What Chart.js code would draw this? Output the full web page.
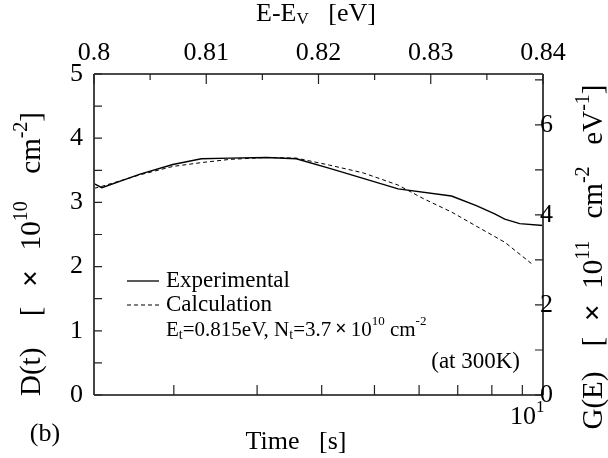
<!DOCTYPE html>
<html>
<head>
<meta charset="utf-8">
<script src="https://cdn.jsdelivr.net/npm/chart.js@4.4.0/dist/chart.umd.min.js"></script>
<style>
  body { margin: 0; background: #fff; }
</style>
</head>
<body>
<canvas id="c" width="608" height="458"></canvas>
<script>
// data
var timeRange = [2.277, 10.74];          // bottom axis, seconds (log)
var energyRange = [0.80, 0.84];          // top axis, eV
var dRange = [0, 5];                     // left axis
var gRange = [0, 7.13];                  // right axis
var energyTicks = [0.80, 0.81, 0.82, 0.83, 0.84];
var dTicks = [0, 1, 2, 3, 4, 5];
var gTicks = [0, 2, 4, 6];
var timeTicks = [3, 4, 5, 6, 7, 8, 9, 10];

var expTime = [2.28, 2.34, 2.67, 2.99, 3.30, 3.64, 4.13, 4.58, 5.14, 5.77, 6.51, 7.83, 8.53, 9.09, 9.41, 9.91, 10.74];
var expD    = [3.29, 3.23, 3.44, 3.59, 3.68, 3.69, 3.70, 3.68, 3.53, 3.375, 3.21, 3.10, 2.95, 2.82, 2.74, 2.67, 2.64];

var calcTime = [2.28, 2.34, 2.67, 2.99, 3.30, 3.64, 4.13, 4.58, 5.14, 5.77, 6.51, 7.10, 7.83, 8.53, 9.41, 10.37];
var calcD    = [3.22, 3.25, 3.43, 3.56, 3.62, 3.67, 3.70, 3.69, 3.58, 3.46, 3.27, 3.06, 2.85, 2.63, 2.38, 2.03];

var FONT = '"Liberation Serif", "Times New Roman", serif';

function pts(xs, ys) {
  return xs.map(function(x, i) { return { x: x, y: ys[i] }; });
}

function setFont(ctx, s) {
  ctx.font = (s[3] ? 'bold ' : '') + s[1] + 'px ' + FONT;
}

// draws a run of text pieces: [text, size, dy, bold, gapWeight]
// if span is given, the weighted gaps are stretched so the run fills it
function rich(ctx, segs, x, y, align, span) {
  var w = 0, wsum = 0;
  segs.forEach(function(s) {
    setFont(ctx, s);
    w += ctx.measureText(s[0]).width;
    wsum += s[4] || 0;
  });
  var unit = (span && wsum) ? (span - w) / wsum : 0;
  if (span) w = span;
  var cx = align === 'center' ? x - w / 2 : (align === 'right' ? x - w : x);
  ctx.textAlign = 'left';
  ctx.textBaseline = 'middle';
  segs.forEach(function(s) {
    setFont(ctx, s);
    ctx.fillText(s[0], cx, y + (s[2] || 0));
    cx += ctx.measureText(s[0]).width + (s[4] || 0) * unit;
  });
}

var framePlugin = {
  id: 'frame',
  afterDraw: function(chart) {
    var ctx = chart.ctx, a = chart.chartArea;
    var sx = chart.scales.x, sxt = chart.scales.xTop, sy = chart.scales.y, syr = chart.scales.yR;
    ctx.save();
    ctx.fillStyle = '#000';
    ctx.lineWidth = 1.5;
    ctx.strokeStyle = '#111';
    ctx.beginPath();
    ctx.moveTo(a.left, a.top); ctx.lineTo(a.right, a.top);
    ctx.moveTo(a.left, a.bottom); ctx.lineTo(a.right, a.bottom);
    ctx.stroke();
    ctx.strokeStyle = '#444';
    ctx.lineWidth = 2;
    ctx.beginPath();
    ctx.moveTo(a.left, a.top); ctx.lineTo(a.left, a.bottom);
    ctx.moveTo(a.right, a.top); ctx.lineTo(a.right, a.bottom);
    ctx.stroke();

    ctx.strokeStyle = '#222';
    ctx.lineWidth = 1.2;
    ctx.beginPath();
    // left ticks every 0.5
    for (var v = dRange[0]; v <= dRange[1] + 1e-9; v += 0.5) {
      var py = sy.getPixelForValue(v);
      ctx.moveTo(a.left, py); ctx.lineTo(a.left + 8, py);
    }
    // right ticks every 1
    for (var g = 0; g <= gRange[1]; g += 1) {
      var py2 = syr.getPixelForValue(g);
      ctx.moveTo(a.right, py2); ctx.lineTo(a.right - 8, py2);
    }
    // top ticks every 0.005
    for (var k = 0; k <= 8; k++) {
      var e = energyRange[0] + k * 0.005;
      var px = sxt.getPixelForValue(e);
      ctx.moveTo(px, a.top); ctx.lineTo(px, a.top + (k % 2 === 0 ? 10 : 6));
    }
    // bottom ticks
    timeTicks.forEach(function(t) {
      var px2 = sx.getPixelForValue(t);
      ctx.moveTo(px2, a.bottom); ctx.lineTo(px2, a.bottom - 10);
    });
    ctx.stroke();

    // tick labels
    ctx.font = '26px ' + FONT;
    ctx.textBaseline = 'middle';
    ctx.textAlign = 'right';
    dTicks.forEach(function(d) {
      ctx.fillText(String(d), a.left - 11, sy.getPixelForValue(d));
    });
    ctx.textAlign = 'left';
    gTicks.forEach(function(g) {
      ctx.fillText(String(g), a.right - 3, syr.getPixelForValue(g));
    });
    ctx.textAlign = 'center';
    energyTicks.forEach(function(e) {
      var s = e === 0.8 ? '0.8' : e.toFixed(2);
      ctx.fillText(s, sxt.getPixelForValue(e), a.top - 21);
    });
    rich(ctx, [['10', 26, 0], ['1', 17, -9]], sx.getPixelForValue(10) + 5, a.bottom + 22, 'center');

    // axis titles
    rich(ctx, [['E-E', 26, 0], ['V', 17, 6], ['   [eV]', 26, 0]], 316, 14, 'center');
    rich(ctx, [['Time   [s]', 26, 0]], 296, 442, 'center');
    rich(ctx, [['(b)', 26, 0]], 45, 434, 'center');

    ctx.save();
    ctx.translate(32, 254);
    ctx.rotate(-Math.PI / 2);
    rich(ctx, [['D(t)', 29, 0, false, 1.6], ['[', 29, 0, false, 1], ['\u00d7', 30, 0, true, 1], ['10', 29, 0],
               ['10', 20, -10, false, 1.4], ['cm', 29, 0], ['-2', 20, -10], [']', 29, 0]], 0, 0, 'center', 284);
    ctx.restore();

    ctx.save();
    ctx.translate(594, 257);
    ctx.rotate(-Math.PI / 2);
    rich(ctx, [['G(E)', 29, 0, false, 1.6], ['[', 29, 0, false, 1], ['\u00d7', 30, 0, true, 1], ['10', 29, 0],
               ['11', 20, -10, false, 1.4], ['cm', 29, 0], ['-2', 20, -10, false, 1.4], ['eV', 29, 0], ['-1', 20, -10],
               [']', 29, 0]], 0, 0, 'center', 345);
    ctx.restore();

    // legend
    ctx.strokeStyle = '#000';
    ctx.lineWidth = 1.3;
    ctx.setLineDash([]);
    ctx.beginPath(); ctx.moveTo(127, 281); ctx.lineTo(159, 281); ctx.stroke();
    ctx.setLineDash([4, 3]);
    ctx.lineWidth = 1;
    ctx.beginPath(); ctx.moveTo(127, 305); ctx.lineTo(159, 305); ctx.stroke();
    ctx.setLineDash([]);
    rich(ctx, [['Experimental', 23, 0]], 166, 281, 'left');
    rich(ctx, [['Calculation', 23, 0]], 166, 305, 'left');
    rich(ctx, [['E', 21, 0], ['t', 14, 5], ['=0.815eV, N', 21, 0], ['t', 14, 5], ['=3.7', 21, 0],
               ['\u2009\u00d7\u2009', 20, 0, true], ['10', 21, 0], ['10', 13, -8], [' cm', 21, 0], ['-2', 13, -8]], 166, 330, 'left');
    rich(ctx, [['(at 300K)', 23, 0]], 520, 362, 'right');
    ctx.restore();
  }
};

new Chart(document.getElementById('c'), {
  type: 'line',
  data: {
    datasets: [{
      label: 'Experimental',
      data: pts(expTime, expD),
      borderColor: '#000',
      borderWidth: 1.4,
      pointRadius: 0,
      tension: 0,
      xAxisID: 'x',
      yAxisID: 'y'
    }, {
      label: 'Calculation',
      data: pts(calcTime, calcD),
      borderColor: '#000',
      borderWidth: 1,
      borderDash: [4, 3],
      pointRadius: 0,
      tension: 0,
      xAxisID: 'x',
      yAxisID: 'y'
    }]
  },
  options: {
    responsive: false,
    animation: false,
    devicePixelRatio: 1,
    layout: { padding: { left: 94, right: 65, top: 74, bottom: 63 } },
    plugins: { legend: { display: false }, tooltip: { enabled: false } },
    scales: {
      x: { type: 'logarithmic', position: 'bottom', min: timeRange[0], max: timeRange[1], display: false },
      xTop: { type: 'linear', position: 'top', min: energyRange[0], max: energyRange[1], display: false },
      y: { type: 'linear', position: 'left', min: dRange[0], max: dRange[1], display: false },
      yR: { type: 'linear', position: 'right', min: gRange[0], max: gRange[1], display: false }
    }
  },
  plugins: [framePlugin]
});
</script>
</body>
</html>
